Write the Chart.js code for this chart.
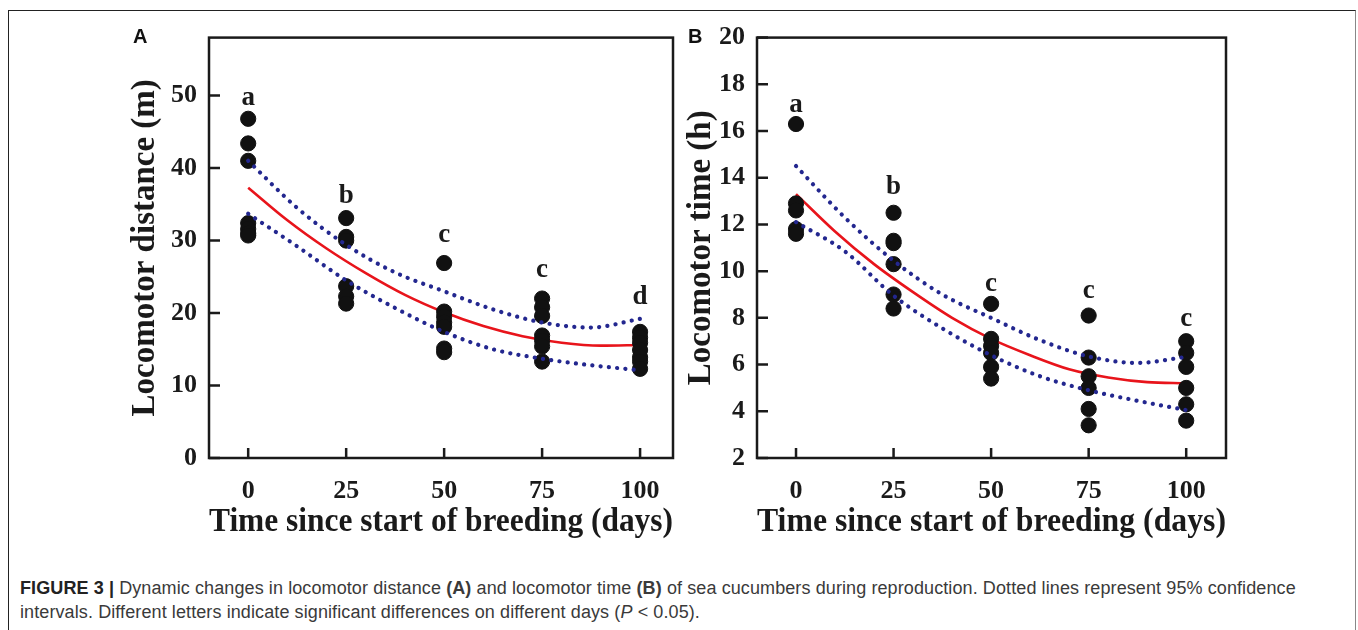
<!DOCTYPE html>
<html>
<head>
<meta charset="utf-8">
<script src="https://cdn.jsdelivr.net/npm/chart.js@4.4.1/dist/chart.umd.min.js"></script>
<style>
  body { margin: 0; background: #fff; width: 1358px; height: 630px; overflow: hidden; position: relative; }
  #frame { position: absolute; left: 8px; top: 10px; width: 1346px; height: 640px; border: 1px solid #222; border-right-color: #888; }
  .wrap { position: absolute; top: 10px; width: 580px; height: 535px; }
  .panel { position: absolute; top: 25px; font: bold 20px "Liberation Sans", Arial, sans-serif; color: #111; }
  #caption { position: absolute; left: 20px; top: 576px; width: 1322px; font: 18px "Liberation Sans", Arial, sans-serif; letter-spacing: 0.1px; line-height: 24px; color: #3a3a3a; }
</style>
</head>
<body>
<div id="frame"></div>
<div class="wrap" style="left:110px"><canvas id="chartA" width="580" height="535"></canvas></div>
<div class="wrap" style="left:666px"><canvas id="chartB" width="580" height="535"></canvas></div>
<div class="panel" style="left:133px">A</div>
<div class="panel" style="left:688px">B</div>
<div id="caption"><b style="color:#222">FIGURE 3 |</b> Dynamic changes in locomotor distance <b>(A)</b> and locomotor time <b>(B)</b> of sea cucumbers during reproduction. Dotted lines represent 95% confidence intervals. Different letters indicate significant differences on different days (<i>P</i> &lt; 0.05).</div>

<script>
// days of breeding
var days = [0, 25, 50, 75, 100];
var xTicks = [0, 25, 50, 75, 100];

// A: locomotor distance (m), individual animals per day
var distance = [
  [46.8, 43.4, 41.0, 32.4, 31.6, 31.0, 30.7],
  [33.1, 30.5, 30.0, 23.7, 22.3, 21.3],
  [26.9, 20.2, 19.5, 18.7, 18.1, 15.1, 14.6],
  [22.0, 20.8, 19.6, 16.9, 16.2, 15.4, 13.3],
  [17.4, 16.6, 15.9, 14.9, 13.9, 13.3, 12.3]
];
var fitDaysA = [0, 10, 20, 30, 40, 50, 60, 70, 80, 90, 100];
var fitA = [37.3, 32.8, 28.9, 25.5, 22.5, 20.1, 18.2, 16.8, 15.9, 15.5, 15.6];
var ciDays = [0, 12.5, 25, 37.5, 50, 62.5, 75, 87.5, 100];
var upperA = [41.0, 34.5, 29.4, 25.6, 23.0, 20.5, 18.7, 18.0, 19.2];
var lowerA = [33.7, 29.2, 24.5, 20.7, 17.4, 15.0, 13.7, 12.8, 12.1];
var lettersA = ['a', 'b', 'c', 'c', 'd'];
var letterYA = [49.7, 36.2, 30.7, 25.9, 22.2];
var yTicksA = [0, 10, 20, 30, 40, 50];

// B: locomotor time (h)
var time = [
  [16.3, 12.9, 12.6, 11.8, 11.6],
  [12.5, 11.3, 11.2, 10.3, 9.0, 8.4],
  [8.6, 7.1, 6.8, 6.5, 5.9, 5.4],
  [8.1, 6.3, 5.5, 5.0, 4.1, 3.4],
  [7.0, 6.5, 5.9, 5.0, 4.3, 3.6]
];
var fitDaysB = [0, 10, 20, 30, 40, 50, 60, 70, 80, 90, 100];
var fitB = [13.3, 11.7, 10.3, 9.1, 8.0, 7.1, 6.4, 5.8, 5.45, 5.25, 5.2];
var upperB = [14.5, 12.3, 10.45, 9.0, 8.0, 7.05, 6.35, 6.07, 6.33];
var lowerB = [12.1, 10.85, 8.95, 7.55, 6.4, 5.5, 4.9, 4.45, 4.05];
var lettersB = ['a', 'b', 'c', 'c', 'c'];
var letterYB = [17.1, 13.6, 9.45, 9.15, 7.95];
var yTicksB = [2, 4, 6, 8, 10, 12, 14, 16, 18, 20];

var serif = '"Liberation Serif", "Times New Roman", serif';
var ink = '#1a1a1a';

function toPoints(xs, ys) {
  return xs.map(function (x, i) { return { x: x, y: ys[i] }; });
}

// box around the plot, inward tick marks and the significance letters
var framePlugin = {
  id: 'frame',
  afterDatasetsDraw: function (chart, args, opts) {
    var ctx = chart.ctx, a = chart.chartArea;
    var xs = chart.scales.x, ys = chart.scales.y;
    ctx.save();
    ctx.strokeStyle = ink;
    ctx.lineWidth = 2.5;
    ctx.strokeRect(a.left, a.top, a.right - a.left, a.bottom - a.top);
    ctx.beginPath();
    xs.ticks.forEach(function (t) {
      var px = xs.getPixelForValue(t.value);
      ctx.moveTo(px, a.bottom);
      ctx.lineTo(px, a.bottom - 10);
    });
    ys.ticks.forEach(function (t) {
      var py = ys.getPixelForValue(t.value);
      ctx.moveTo(a.left, py);
      ctx.lineTo(a.left + 11, py);
    });
    ctx.stroke();
    ctx.fillStyle = ink;
    ctx.font = 'bold 27px ' + serif;
    ctx.textAlign = 'center';
    ctx.textBaseline = 'middle';
    opts.letters.forEach(function (l, i) {
      ctx.fillText(l, xs.getPixelForValue(days[i]), ys.getPixelForValue(opts.letterY[i]));
    });
    ctx.restore();
  }
};

function makeChart(id, groups, fitX, fitY, upper, lower, yMin, yMax, yTicks, xMax, yTitle, letters, letterY, pad, yWidth) {
  var pts = [];
  groups.forEach(function (vals, i) {
    vals.forEach(function (v) { pts.push({ x: days[i], y: v }); });
  });
  var ctx = document.getElementById(id).getContext('2d');
  return new Chart(ctx, {
    type: 'scatter',
    data: {
      datasets: [{
        label: 'upper 95% CI',
        type: 'line',
        data: toPoints(ciDays, upper),
        borderColor: '#23278f',
        borderWidth: 4.2,
        borderDash: [0.1, 8.2],
        borderCapStyle: 'round',
        pointRadius: 0,
        cubicInterpolationMode: 'monotone',
        fill: false
      }, {
        label: 'lower 95% CI',
        type: 'line',
        data: toPoints(ciDays, lower),
        borderColor: '#23278f',
        borderWidth: 4.2,
        borderDash: [0.1, 8.2],
        borderCapStyle: 'round',
        pointRadius: 0,
        cubicInterpolationMode: 'monotone',
        fill: false
      }, {
        label: 'observed',
        data: pts,
        backgroundColor: '#111',
        borderColor: '#111',
        pointRadius: 7.6,
        pointHoverRadius: 7.6
      }, {
        label: 'fit',
        type: 'line',
        data: toPoints(fitX, fitY),
        borderColor: '#e8141b',
        borderWidth: 2.6,
        pointRadius: 0,
        cubicInterpolationMode: 'monotone',
        fill: false
      }]
    },
    options: {
      responsive: false,
      animation: false,
      layout: { padding: pad },
      plugins: {
        legend: { display: false },
        tooltip: { enabled: false },
        frame: { letters: letters, letterY: letterY }
      },
      scales: {
        x: {
          type: 'linear',
          min: -10,
          max: xMax,
          grid: { display: false, drawTicks: false },
          border: { display: false },
          afterBuildTicks: function (s) { s.ticks = xTicks.map(function (v) { return { value: v }; }); },
          afterFit: function (s) { s.height = 87; },
          ticks: { color: ink, padding: 18, font: { family: serif, size: 26, weight: 'bold' } },
          title: {
            display: true,
            text: 'Time since start of breeding (days)',
            color: ink,
            padding: { top: 0, bottom: 3 },
            font: { family: serif, size: 33, weight: 'bold', lineHeight: 1.2 }
          }
        },
        y: {
          min: yMin,
          max: yMax,
          grid: { display: false, drawTicks: false },
          border: { display: false },
          afterBuildTicks: function (s) { s.ticks = yTicks.map(function (v) { return { value: v }; }); },
          afterFit: function (s) { s.width = yWidth; },
          ticks: { color: ink, padding: 12, font: { family: serif, size: 26, weight: 'bold' } },
          title: {
            display: true,
            text: yTitle,
            color: ink,
            padding: { top: 16, bottom: 0 },
            font: { family: serif, size: 33, weight: 'bold', lineHeight: 1.2 }
          }
        }
      }
    },
    plugins: [framePlugin]
  });
}

makeChart('chartA', distance, fitDaysA, fitA, upperA, lowerA, 0, 58, yTicksA, 108.4,
  'Locomotor distance (m)', lettersA, letterYA, { left: 0, top: 27, right: 17, bottom: 0 }, 99);
makeChart('chartB', time, fitDaysB, fitB, upperB, lowerB, 2, 20, yTicksB, 110.2,
  'Locomotor time (h)', lettersB, letterYB, { left: 0, top: 26, right: 20, bottom: 0 }, 91);
</script>
</body>
</html>
